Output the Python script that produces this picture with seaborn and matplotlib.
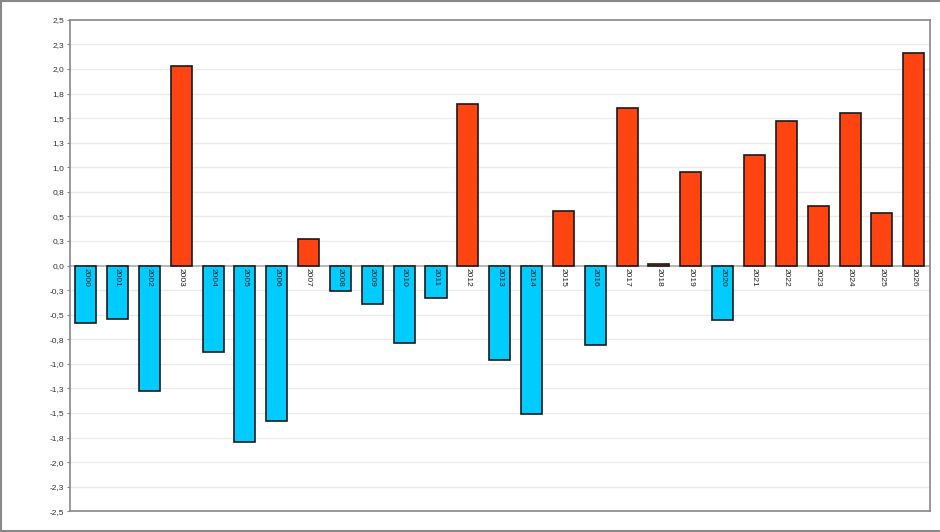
import matplotlib
matplotlib.use("Agg")
import matplotlib.pyplot as plt
import seaborn as sns
import pandas as pd
import numpy as np
from matplotlib.lines import Line2D

years = [str(y) for y in range(2000, 2027)]
values = [-0.58, -0.54, -1.28, 2.03, -0.88, -1.80, -1.585, 0.27, -0.26, -0.39,
          -0.79, -0.33, 1.64, -0.96, -1.51, 0.56, -0.81, 1.60, 0.02, 0.95,
          -0.55, 1.12, 1.47, 0.61, 1.55, 0.53, 2.16]
ytick_vals = [2.5, 2.25, 2.0, 1.75, 1.5, 1.25, 1.0, 0.75, 0.5, 0.25, 0.0,
              -0.25, -0.5, -0.75, -1.0, -1.25, -1.5, -1.75, -2.0, -2.25, -2.5]
ytick_labels = ["2,5", "2,3", "2,0", "1,8", "1,5", "1,3", "1,0", "0,8", "0,5", "0,3", "0,0",
                "-0,3", "-0,5", "-0,8", "-1,0", "-1,3", "-1,5", "-1,8", "-2,0", "-2,3", "-2,5"]

df = pd.DataFrame({"year": years, "value": values})
df["sign"] = np.where(df["value"] >= 0, "pos", "neg")

sns.set_theme(style="white")
plt.rcParams["font.family"] = ["Liberation Sans", "DejaVu Sans"]

fig = plt.figure(figsize=(9.4, 5.32), dpi=100)
W, H = 940, 532
ax = fig.add_axes([69.7 / W, (H - 511.3) / H, (929.7 - 69.7) / W, (511.3 - 19.8) / H])

sns.barplot(data=df, x="year", y="value", hue="sign",
            palette={"pos": "#FF4411", "neg": "#00CCFF"}, saturation=1,
            dodge=False, width=0.66, legend=False,
            edgecolor="#1a1a1a", linewidth=1.2, ax=ax, zorder=3)

ax.set_xlim(-0.5, len(years) - 0.5)
ax.set_ylim(-2.5, 2.5)
ax.set_yticks(ytick_vals)
ax.set_yticklabels(ytick_labels, fontsize=6, color="#333333")
ax.set_xticks([])
ax.set_xlabel("")
ax.set_ylabel("")
ax.tick_params(axis="y", length=2, width=0.8, color="#888888", pad=2, left=True)

for v in ytick_vals:
    if v not in (2.5, -2.5, 0.0):
        ax.axhline(v, color="#ebebeb", linewidth=1.0, zorder=0)
ax.axhline(0, color="#aaaaaa", linewidth=1.2, zorder=2)

for i, y in enumerate(years):
    ax.text(i, -0.03, y, rotation=-90, ha="center", va="top",
            fontsize=6, color="#222222", zorder=5)

for s in ax.spines.values():
    s.set_visible(True)
    s.set_color("#888888")
    s.set_linewidth(1.2)

# figure border
for line in [([0.5 / W, 0.5 / W], [0, 1]),
             ([0, 1], [1 - 0.8 / H, 1 - 0.8 / H]),
             ([0, 1], [1.2 / H, 1.2 / H])]:
    fig.add_artist(Line2D(line[0], line[1], color="#888888", linewidth=1.5,
                          transform=fig.transFigure))

fig.savefig("out.png", dpi=100, facecolor="white")
